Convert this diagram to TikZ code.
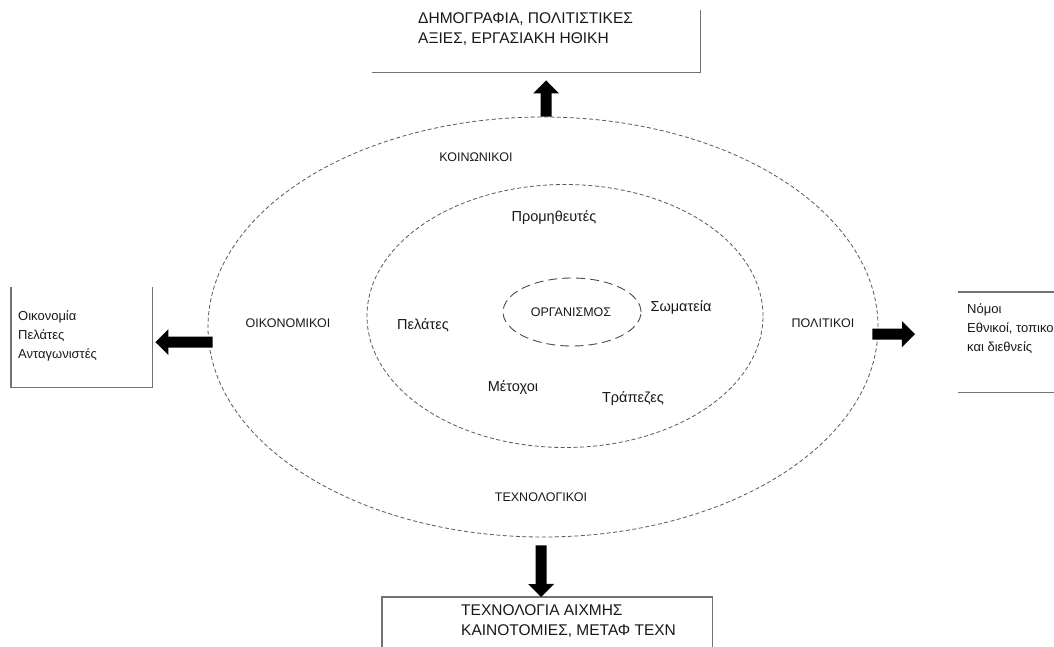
\documentclass[tikz,border=0pt]{standalone}
\usepackage{fontspec}
\setmainfont{Liberation Sans}
\usetikzlibrary{arrows.meta,shapes.geometric}
\tikzset{
  ring/.style={draw=black!65, line width=0.8pt, dash pattern=on 4pt off 2.5pt, ellipse, inner sep=0pt},
  corering/.style={draw=black!70, line width=0.9pt, dash pattern=on 9pt off 5pt, ellipse, inner sep=0pt},
  lbl/.style={font=\fontsize{12.5}{14}\selectfont, text=black!90, inner sep=0pt},
  lbllow/.style={font=\fontsize{14.5}{16}\selectfont, text=black!90, inner sep=0pt},
  boxcaps/.style={font=\fontsize{15.5}{20.5}\selectfont, text=black!90, align=left, anchor=north west, inner sep=0pt},
  boxlow/.style={font=\fontsize{13}{19}\selectfont, text=black!90, align=left, anchor=north west, inner sep=0pt},
  frame/.style={inner sep=0pt, anchor=north west},
  edge/.style={draw=black!55, line width=1.3pt},
  blockarrow/.style={draw=black, line width=11pt, -{Triangle[width=25pt,length=13pt]}},
}
\begin{document}
\begin{tikzpicture}[x=1pt,y=-1pt]
\useasboundingbox (0,0) rectangle (1054,646);
\clip (0,0) rectangle (1054,646);
\fill[white] (0,0) rectangle (1054,646);

% boxes
\node[frame, minimum width=328pt, minimum height=62pt] (topbox) at (372,10) {};
\node[frame, minimum width=141pt, minimum height=100pt] (leftbox) at (11,287) {};
\node[frame, minimum width=130pt, minimum height=100pt] (rightbox) at (958,292) {};
\node[frame, minimum width=330pt, minimum height=70pt] (botbox) at (382,597) {};

\draw[edge] (topbox.south west) -- (topbox.south east) -- (topbox.north east);
\draw[edge] (leftbox.north west) -- (leftbox.south west) -- (leftbox.south east) -- (leftbox.north east);
\draw[edge] (rightbox.north west) -- (rightbox.north east);
\draw[edge] (rightbox.south west) -- (rightbox.south east);
\draw[edge] (botbox.south west) -- (botbox.north west) -- (botbox.north east) -- (botbox.south east);

\node[boxcaps] (toptext) at (418,12) {ΔΗΜΟΓΡΑΦΙΑ, ΠΟΛΙΤΙΣΤΙΚΕΣ\\ΑΞΙΕΣ, ΕΡΓΑΣΙΑΚΗ ΗΘΙΚΗ};
\node[boxcaps] (bottext) at (461,604) {ΤΕΧΝΟΛΟΓΙΑ ΑΙΧΜΗΣ\\ΚΑΙΝΟΤΟΜΙΕΣ, ΜΕΤΑΦ ΤΕΧΝ};
\node[boxlow] (lefttext) at (18,310) {Οικονομία\\Πελάτες\\Ανταγωνιστές};
\node[boxlow] (righttext) at (967,303) {Νόμοι\\Εθνικοί, τοπικοί\\και διεθνείς};

% rings
\node[ring, minimum width=670pt, minimum height=420pt] (outer) at (543,327) {};
\node[ring, minimum width=396pt, minimum height=263pt] (inner) at (565,316) {};
\node[corering, minimum width=138pt, minimum height=68pt] (core) at (572,312) {};

% labels
\node[lbl] (koin) at (476,157) {ΚΟΙΝΩΝΙΚΟΙ};
\node[lbl] (oik) at (288,323) {ΟΙΚΟΝΟΜΙΚΟΙ};
\node[lbl] (pol) at (823,323) {ΠΟΛΙΤΙΚΟΙ};
\node[lbl] (tech) at (541,497) {ΤΕΧΝΟΛΟΓΙΚΟΙ};
\node[lbl] (org) at (571,312) {ΟΡΓΑΝΙΣΜΟΣ};
\node[lbllow] (prom) at (554,218) {Προμηθευτές};
\node[lbllow] (pel) at (423,325) {Πελάτες};
\node[lbllow] (som) at (681,307) {Σωματεία};
\node[lbllow] (met) at (513,388) {Μέτοχοι};
\node[lbllow] (trap) at (633,399) {Τράπεζες};

% arrows
\draw[blockarrow] ([xshift=3pt]outer.north) -- ([xshift=10pt,yshift=-8pt]topbox.south);
\draw[blockarrow] ([xshift=-2pt,yshift=-8pt]outer.south) -- ([xshift=-6pt]botbox.north);
\draw[blockarrow] ([xshift=5pt,yshift=-15pt]outer.west) -- ([xshift=3pt,yshift=-5pt]leftbox.east);
\draw[blockarrow] ([xshift=-6pt,yshift=-7pt]outer.east) -- ([xshift=-43pt,yshift=8pt]rightbox.west);
\end{tikzpicture}
\end{document}
